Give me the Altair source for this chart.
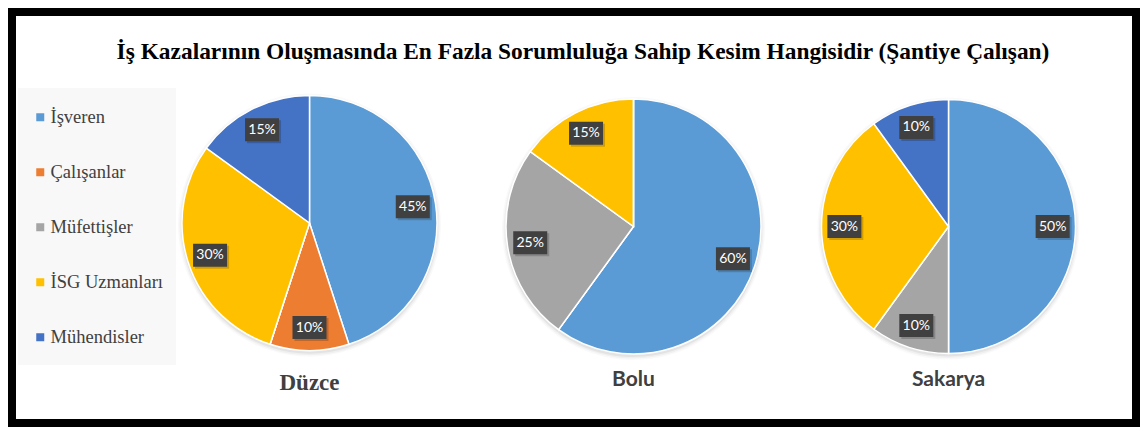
import altair as alt
import pandas as pd

cities = ["Düzce", "Bolu", "Sakarya"]
categories = ["İşveren", "Çalışanlar", "Müfettişler", "İSG Uzmanları", "Mühendisler"]
duzce = [45, 10, 0, 30, 15]
bolu = [60, 0, 25, 15, 0]
sakarya = [50, 0, 10, 30, 10]
colors = ["#5B9BD5", "#ED7D31", "#A5A5A5", "#FFC000", "#4472C4"]
title_text = "İş Kazalarının Oluşmasında En Fazla Sorumluluğa Sahip Kesim Hangisidir (Şantiye Çalışan)"

rows = []
for city, vals in zip(cities, [duzce, bolu, sakarya]):
    for i, (c, v) in enumerate(zip(categories, vals)):
        rows.append(dict(city=city, category=c, idx=i, value=v))
df = pd.DataFrame(rows)
city_df = pd.DataFrame({"city": cities})
title_df = pd.DataFrame({"t": [title_text]})
frame_df = pd.DataFrame({"f": [0]})

W, H = 1132, 419
# pie centre x, centre y, radius (chart coordinates)
geom = {"Düzce": (301.5, 215, 127.5), "Bolu": (625.5, 218.5, 127.5), "Sakarya": (940.5, 218.5, 127)}
city_font = {"Düzce": ("Liberation Serif", 23, 375), "Bolu": ("Lato", 21, 372), "Sakarya": ("Lato", 21, 372)}

color = alt.Color(
    "category:N",
    scale=alt.Scale(domain=categories, range=colors),
    sort=categories,
    legend=alt.Legend(title=None),
)

base = alt.Chart(df)
layers = []

frame = alt.Chart(frame_df).mark_rect(fillOpacity=0, stroke="black", strokeWidth=8).encode(
    x=alt.value(4), x2=alt.value(W - 4), y=alt.value(4), y2=alt.value(H - 4)
)
legend_bg = alt.Chart(frame_df).mark_rect(color="#f8f8f8").encode(
    x=alt.value(10), x2=alt.value(168), y=alt.value(80), y2=alt.value(357)
)
layers += [frame, legend_bg]

title = alt.Chart(title_df).mark_text(
    font="Liberation Serif", fontWeight="bold", fontSize=23.4, color="black", baseline="alphabetic", align="center"
).encode(text="t:N", x=alt.value(575), y=alt.value(51))
layers.append(title)

for city in cities:
    cx, cy, R = geom[city]
    r = 0.82 * R
    cdata = base.transform_filter(alt.datum.city == city)
    # soft shadow rings
    for dr, op in [(4, 0.025), (2.5, 0.035), (1, 0.05)]:
        layers.append(
            cdata.mark_arc(radius=R + dr, color="black", opacity=op, strokeWidth=0).encode(
                theta=alt.Theta("value:Q", stack=True), order=alt.Order("idx:Q"),
                x=alt.value(cx), y=alt.value(cy + 2),
            )
        )
    arc = cdata.mark_arc(radius=R, stroke="white", strokeWidth=1.5).encode(
        theta=alt.Theta("value:Q", stack=True),
        color=color,
        order=alt.Order("idx:Q"),
        x=alt.value(cx),
        y=alt.value(cy),
    )
    lab = (
        cdata.transform_window(cum="sum(value)", sort=[alt.SortField("idx")], frame=[None, 0])
        .transform_joinaggregate(total="sum(value)")
        .transform_filter(alt.datum.value > 0)
        .transform_calculate(ang="2*PI*(datum.cum - datum.value/2)/datum.total")
        .transform_calculate(
            px=f"{cx} + {r}*sin(datum.ang)",
            py=f"{cy} - {r}*cos(datum.ang)",
            label="datum.value + '%'",
        )
        .transform_calculate(x1="datum.px-17", x2="datum.px+17", y1="datum.py-11.5", y2="datum.py+11.5",
                             sx1="datum.px-15", sx2="datum.px+19", sy1="datum.py-9.5", sy2="datum.py+13.5")
    )
    shadow = lab.mark_rect(color="black", opacity=0.18).encode(
        x=alt.X("sx1:Q", scale=None, axis=None), x2="sx2:Q",
        y=alt.Y("sy1:Q", scale=None, axis=None), y2="sy2:Q",
    )
    box = lab.mark_rect(color="#404040").encode(
        x=alt.X("x1:Q", scale=None, axis=None), x2="x2:Q",
        y=alt.Y("y1:Q", scale=None, axis=None), y2="y2:Q",
    )
    txt = lab.mark_text(font="Lato", fontWeight="normal", fontSize=14, color="white", baseline="middle").encode(
        x=alt.X("px:Q", scale=None, axis=None), y=alt.Y("py:Q", scale=None, axis=None), text="label:N"
    )
    f, fs, ty = city_font[city]
    ctext = alt.Chart(city_df).transform_filter(alt.datum.city == city).mark_text(
        font=f, fontWeight="bold", fontSize=fs, color="#404040", baseline="middle"
    ).encode(text="city:N", x=alt.value(cx), y=alt.value(ty))
    layers += [arc, shadow, box, txt, ctext]

chart = (
    alt.layer(*layers)
    .properties(width=W, height=H, autosize=alt.AutoSizeParams(type="fit", contains="padding"), padding=0,
                background="white")
    .configure_view(stroke=None)
    .configure_legend(
        orient="none", legendX=23, legendY=100, padding=0, rowPadding=36,
        symbolType="square", symbolSize=64, symbolStrokeWidth=0, labelFont="Liberation Serif",
        labelFontSize=18.5, labelColor="#404040", labelOffset=1, labelLimit=200,
    )
)
chart.save("out.html", embed_options={"renderer": "svg", "actions": False})
